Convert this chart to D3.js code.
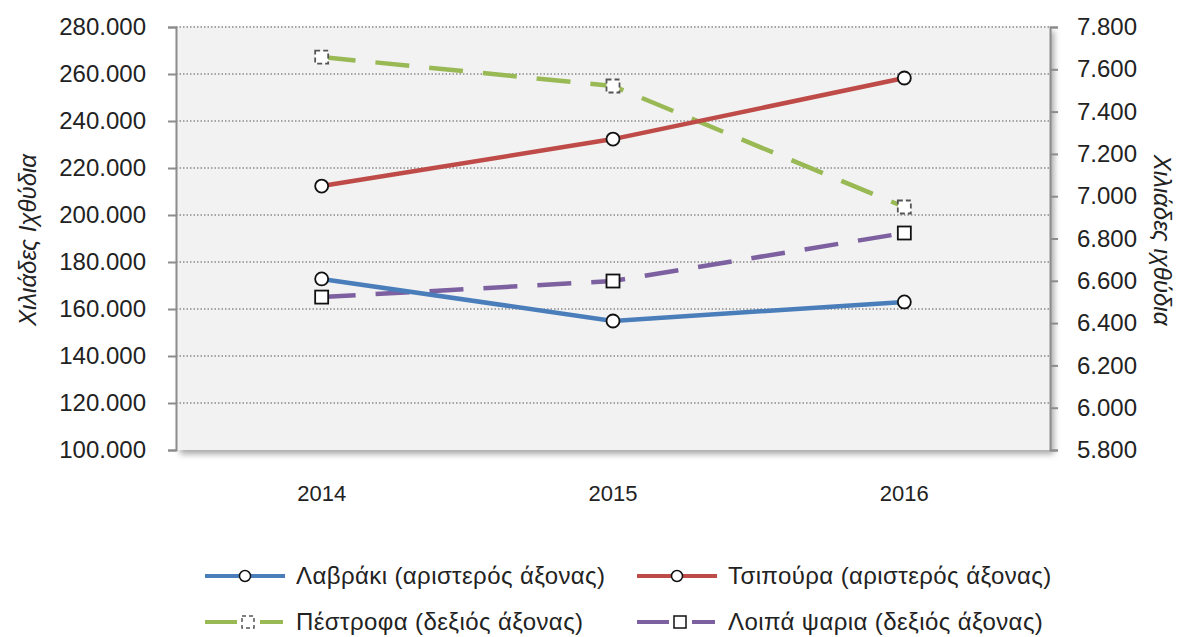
<!DOCTYPE html>
<html><head><meta charset="utf-8">
<script src="https://cdn.jsdelivr.net/npm/d3@7"></script>
<style>body{margin:0;background:#fff}svg{display:block}</style>
</head><body>
<svg id="c" width="1187" height="637"></svg>
<script>
const years = ["2014","2015","2016"];
const lavraki = [172800, 154900, 163000];
const tsipoura = [212300, 232300, 258300];
const pestrofa = [7658, 7521, 6949];
const loipa = [6523, 6599, 6826];
const leftTicks = [100000,120000,140000,160000,180000,200000,220000,240000,260000,280000];
const rightTicks = [5800,6000,6200,6400,6600,6800,7000,7200,7400,7600,7800];
const seriesNames = ["Λαβράκι (αριστερός άξονας)","Τσιπούρα (αριστερός άξονας)","Πέστροφα (δεξιός άξονας)","Λοιπά ψαρια (δεξιός άξονας)"];
const axisTitleLeft = "Χιλιάδες Ιχθύδια";
const axisTitleRight = "Χιλιάδες ιχθύδια";

const svg = d3.select("#c");
const L = 176, R = 1050, T = 27, B = 450;
const FONT = "'Liberation Sans', Arial, sans-serif";
const fmt = v => d3.format(",")(v).replace(/,/g, ".");

const x = d3.scaleBand().domain(years).range([L, R]);
const yL = d3.scaleLinear().domain([100000, 280000]).range([B, T]);
const yR = d3.scaleLinear().domain([5800, 7800]).range([B, T]);

const defs = svg.append("defs");
const f = defs.append("filter").attr("id","sh").attr("x","-5%").attr("y","-5%").attr("width","115%").attr("height","115%");
f.append("feDropShadow").attr("dx",4).attr("dy",4).attr("stdDeviation",3).attr("flood-color","#000").attr("flood-opacity",0.35);

svg.append("rect").attr("x",L).attr("y",T).attr("width",R-L).attr("height",B-T)
  .attr("fill","#f2f2f2").attr("filter","url(#sh)");

// gridlines
svg.append("g").selectAll("line").data(leftTicks.slice(1)).join("line")
  .attr("x1",L).attr("x2",R).attr("y1",d=>yL(d)).attr("y2",d=>yL(d))
  .attr("stroke","#8c8c8c").attr("stroke-width",1.3).attr("stroke-dasharray","1.5,2");

// axes
const gl = svg.append("g").attr("transform",`translate(${L},0)`)
  .call(d3.axisLeft(yL).tickValues(leftTicks).tickFormat(fmt).tickSize(8).tickPadding(22));
const gr = svg.append("g").attr("transform",`translate(${R},0)`)
  .call(d3.axisRight(yR).tickValues(rightTicks).tickFormat(fmt).tickSize(8).tickPadding(19));
[gl, gr].forEach(g => {
  g.select(".domain").attr("stroke","#8c8c8c").attr("stroke-width",2);
  g.selectAll(".tick line").attr("stroke","#8c8c8c").attr("stroke-width",2);
  g.selectAll("text").attr("font-family",FONT).attr("font-size",24).attr("fill","#222");
});
const gx = svg.append("g").attr("transform",`translate(0,${B})`)
  .call(d3.axisBottom(x).tickSize(0).tickPadding(35));
gx.select(".domain").remove();
gx.selectAll("text").attr("font-family",FONT).attr("font-size",22).attr("fill","#222");

svg.append("text").attr("transform",`translate(28,240) rotate(-90)`)
  .attr("text-anchor","middle").attr("dy","0.35em").attr("font-family",FONT).attr("font-style","italic")
  .attr("font-size",24).attr("fill","#222").text(axisTitleLeft);
svg.append("text").attr("transform",`translate(1162,240) rotate(90)`)
  .attr("text-anchor","middle").attr("dy","0.35em").attr("font-family",FONT).attr("font-style","italic")
  .attr("font-size",24).attr("fill","#222").text(axisTitleRight);

const cx = d => x(d) + x.bandwidth()/2;
const series = [
  {name:seriesNames[0], vals:lavraki, y:yL, color:"#4a7ebb", dash:null, mk:"circle"},
  {name:seriesNames[1], vals:tsipoura, y:yL, color:"#be4b48", dash:null, mk:"circle"},
  {name:seriesNames[2], vals:pestrofa, y:yR, color:"#98b954", dash:"34,20", mk:"square", mkDash:"5,3"},
  {name:seriesNames[3], vals:loipa, y:yR, color:"#7d60a0", dash:"34,20", mk:"square"}
];
function marker(g, s, px, py){
  if (s.mk === "circle") {
    g.append("circle").attr("cx",px).attr("cy",py).attr("r",6.5)
      .attr("fill","#fff").attr("stroke","#111").attr("stroke-width",1.8);
  } else {
    const r = g.append("rect").attr("x",px-6.5).attr("y",py-6.5).attr("width",13).attr("height",13)
      .attr("fill","#fff").attr("stroke","#111").attr("stroke-width",1.8);
    if (s.mkDash) r.attr("stroke","#555").attr("stroke-dasharray",s.mkDash);
  }
}
const draw = [series[3], series[0], series[2], series[1]];
draw.forEach(s => {
  const line = d3.line().x((d,i)=>cx(years[i])).y(d=>s.y(d));
  svg.append("path").datum(s.vals).attr("d",line).attr("fill","none")
    .attr("stroke",s.color).attr("stroke-width",4.5).attr("stroke-dasharray",s.dash);
  const g = svg.append("g");
  s.vals.forEach((v,i)=>marker(g, s, cx(years[i]), s.y(v)));
});

// legend
const legPos = [[205,576],[637,576],[205,622],[637,622]];
series.forEach((s,i)=>{
  const [lx,ly] = legPos[i];
  const g = svg.append("g");
  if (s.dash) {
    g.append("line").attr("x1",lx).attr("x2",lx+32).attr("y1",ly).attr("y2",ly).attr("stroke",s.color).attr("stroke-width",4);
    g.append("line").attr("x1",lx+55).attr("x2",lx+78).attr("y1",ly).attr("y2",ly).attr("stroke",s.color).attr("stroke-width",4);
  } else {
    g.append("line").attr("x1",lx).attr("x2",lx+80).attr("y1",ly).attr("y2",ly).attr("stroke",s.color).attr("stroke-width",4);
  }
  if (s.mk==="circle") {
    g.append("circle").attr("cx",lx+40).attr("cy",ly).attr("r",5.5).attr("fill","#fff").attr("stroke","#111").attr("stroke-width",1.5);
  } else {
    const r = g.append("rect").attr("x",lx+37).attr("y",ly-6).attr("width",12).attr("height",12).attr("fill","#fff").attr("stroke","#111").attr("stroke-width",1.5);
    if (s.mkDash) r.attr("stroke","#555").attr("stroke-dasharray","4,3");
  }
  g.append("text").attr("x",lx+91).attr("y",ly).attr("dy","0.35em").attr("letter-spacing",0.4)
    .attr("font-family",FONT).attr("font-size",24).attr("fill","#222").text(s.name);
});
</script>
</body></html>
